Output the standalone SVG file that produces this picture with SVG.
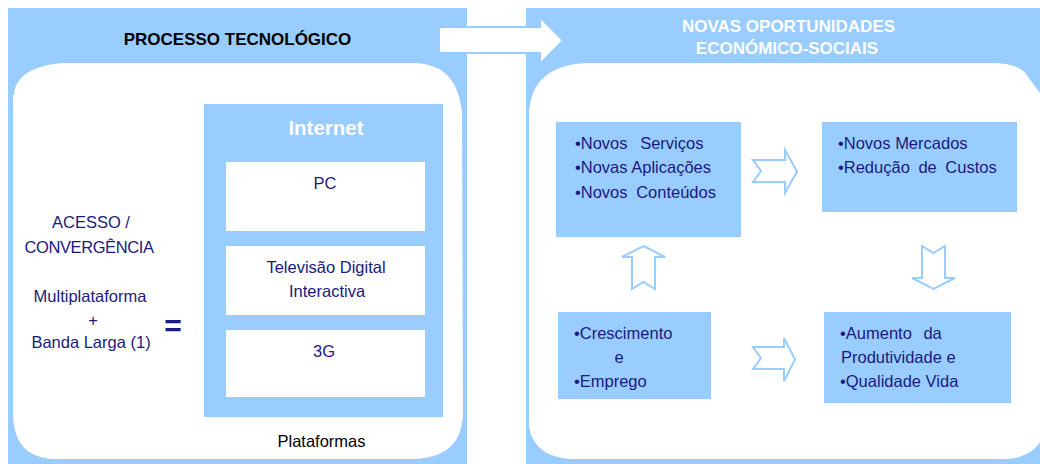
<svg xmlns="http://www.w3.org/2000/svg" width="1040" height="464" viewBox="0 0 1040 464">
<style>
.blue{fill:#99CCFF}
.white{fill:#FFFFFF}
.t{font-family:"Liberation Sans",Arial,sans-serif;font-size:16.5px;fill:#1A1A80}
.c{text-anchor:middle}
.title{font-family:"Liberation Sans",Arial,sans-serif;font-size:17px;font-weight:bold;text-anchor:middle}
.arr{fill:#FFFFFF;stroke:#99CCFF;stroke-width:2;stroke-linejoin:miter}
</style>
<rect width="1040" height="464" fill="#FFFFFF"/>
<g id="panel-left">
<rect class="blue" x="8" y="8" width="459" height="456"/>
<path class="white" d="M13,100 C14,78 28,66 62,63 L415,63 C445,65 458,80 462,112 L463,410 C463,440 450,457 415,459 L52,459 C28,457 14,445 13,415 Z"/>
<text class="title" x="237.5" y="45" fill="#000000">PROCESSO TECNOLÓGICO</text>
</g>
<g id="panel-right">
<rect class="blue" x="526" y="8" width="514" height="456"/>
<path class="white" d="M529,115 C530,85 545,66 585,63 L997,63 C1012,64 1022,68 1026,74 L1045,100 L1045,430 C1042,445 1030,458 1005,459 L570,459 C545,457 531,445 529,425 Z"/>
<text class="title" x="788.5" y="31.5" fill="#FFFFFF">NOVAS OPORTUNIDADES</text>
<text class="title" x="787" y="54" fill="#FFFFFF">ECONÓMICO-SOCIAIS</text>
</g>
<g id="acesso">
<text class="t c" x="91" y="228">ACESSO /</text>
<text class="t c" x="89" y="253" letter-spacing="-0.4">CONVERGÊNCIA</text>
<text class="t c" x="90" y="302">Multiplataforma</text>
<text class="t c" x="93" y="326">+</text>
<text class="t c" x="91" y="348">Banda Larga (1)</text>
<text x="173" y="336" font-family="Liberation Sans,Arial,sans-serif" font-size="30" font-weight="bold" fill="#1A1A80" text-anchor="middle">=</text>
</g>
<g id="internet">
<rect class="blue" x="204" y="104" width="239" height="313"/>
<text x="326" y="135" font-family="Liberation Sans,Arial,sans-serif" font-size="20.5" font-weight="bold" fill="#FFFFFF" text-anchor="middle">Internet</text>
</g>
<g id="pc">
<rect class="white" x="226" y="162" width="199" height="69"/>
<text class="t c" x="325" y="189" font-size="16">PC</text>
</g>
<g id="tv">
<rect class="white" x="226" y="246" width="199" height="69"/>
<text class="t c" x="326" y="273" font-size="16">Televisão Digital</text>
<text class="t c" x="327" y="297" font-size="16">Interactiva</text>
</g>
<g id="g3">
<rect class="white" x="226" y="330" width="199" height="67"/>
<text class="t c" x="324" y="357" font-size="16">3G</text>
</g>
<g id="plataformas">
<text class="c" x="321.5" y="447" font-family="Liberation Sans,Arial,sans-serif" font-size="16.5" fill="#000000">Plataformas</text>
</g>
<g id="servicos">
<rect class="blue" x="556" y="122" width="185" height="115"/>
<text class="t" x="575" y="149" word-spacing="8">•Novos Serviços</text>
<text class="t" x="575" y="173">•Novas Aplicações</text>
<text class="t" x="575" y="198" word-spacing="4">•Novos Conteúdos</text>
</g>
<g id="mercados">
<rect class="blue" x="822" y="122" width="195" height="90"/>
<text class="t" x="838" y="149">•Novos Mercados</text>
<text class="t" x="838" y="173" word-spacing="4">•Redução de Custos</text>
</g>
<g id="crescimento">
<rect class="blue" x="558" y="312" width="153" height="87"/>
<text class="t" x="574" y="339">•Crescimento</text>
<text class="t c" x="619" y="363">e</text>
<text class="t" x="574" y="387">•Emprego</text>
</g>
<g id="produtividade">
<rect class="blue" x="824" y="312" width="187" height="91"/>
<text class="t" x="840" y="339" word-spacing="7">•Aumento da</text>
<text class="t" x="841" y="363">Produtividade e</text>
<text class="t" x="840" y="387">•Qualidade Vida</text>
</g>
<g id="connectors">
<path class="arr" d="M439,27 L540,27 L540,17 L563,40.5 L540,64 L540,53 L439,53 Z"/>
<path class="arr" d="M753,160 L785,160 L785,150 L797,171.5 L785,193 L785,182 L753,182 L761,171 Z"/>
<path class="arr" d="M753,347 L784,347 L784,338 L795,359.5 L784,381 L784,369 L753,369 L761,358 Z"/>
<path class="arr" d="M643.5,246 L665,257 L655,257 L655,289 L643.5,282 L632,289 L632,257 L622,257 Z"/>
<path class="arr" d="M922,246 L933.5,253 L945,246 L945,278 L955,278 L933.5,289 L912,278 L922,278 Z"/>
</g>
</svg>
